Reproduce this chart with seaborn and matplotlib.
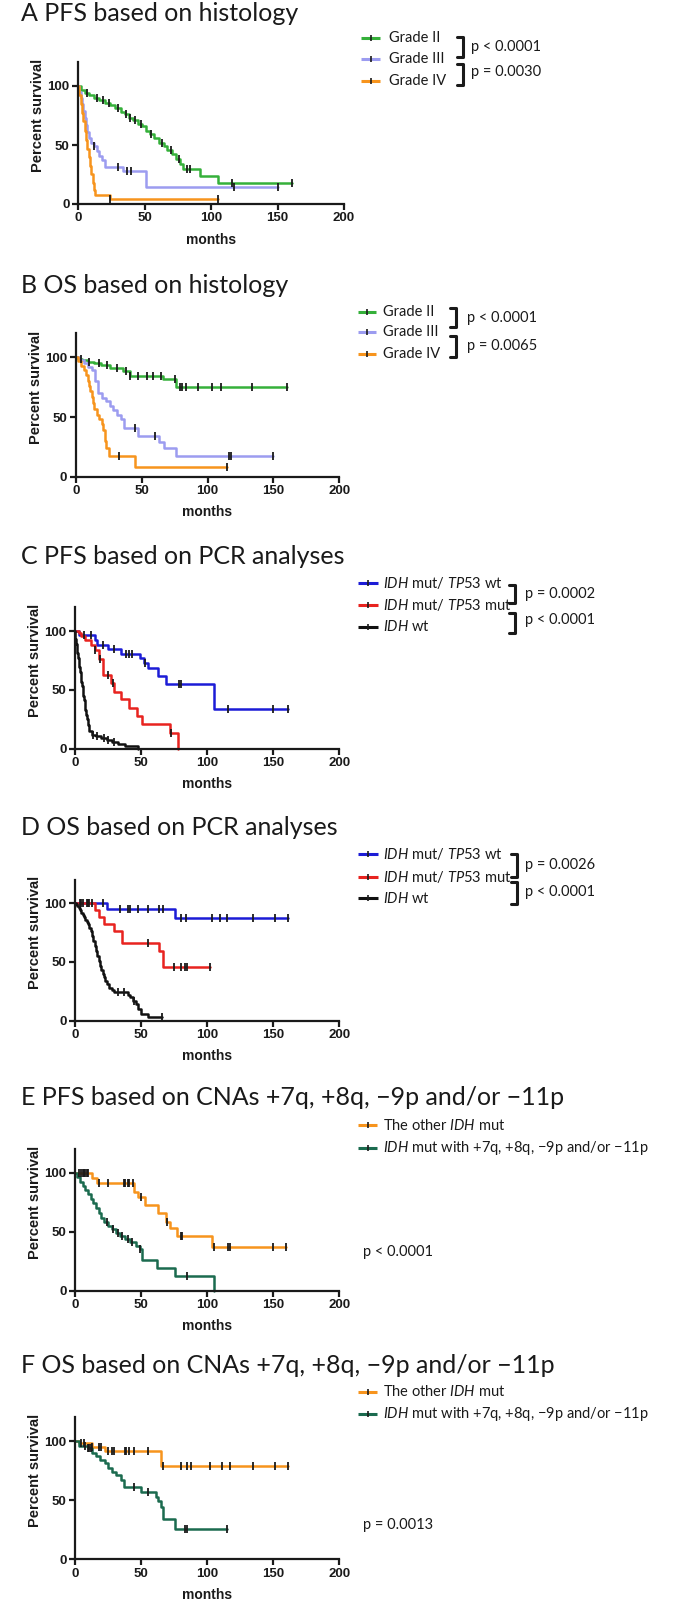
import numpy as np
import matplotlib
matplotlib.use("Agg")
import matplotlib.pyplot as plt
import seaborn as sns

sns.set_theme(style="ticks")
plt.rcParams["font.family"] = ["Lato", "DejaVu Sans"]
plt.rcParams["mathtext.fontset"] = "custom"
plt.rcParams["mathtext.it"] = "Lato:italic"
plt.rcParams["mathtext.rm"] = "Lato"

# ---- data (months, percent survival) ----
# A  PFS by histology
a_g2_t = [2, 5, 8, 12, 16, 20, 24, 28, 32, 35, 38, 41, 45, 48, 51, 54, 57, 61, 65, 67, 71, 74, 77, 79, 92, 105]
a_g2_s = [97, 94, 92, 90, 88, 86, 84, 81, 78, 76, 73, 71, 68, 66, 62, 59, 56, 52, 49, 46, 42, 38, 34, 30, 23.5, 17.5]
a_g2_c = [7, 14, 19, 23, 30, 36, 39, 43, 47, 55, 63, 70, 76, 82, 84, 116, 161]
a_g3_t = [1, 2, 3, 4, 5, 6, 7, 8, 10, 12, 14, 16, 18, 20, 34, 51]
a_g3_s = [95, 90, 85, 79, 73, 67, 61, 56, 52, 49, 45, 41, 37, 31, 28, 14]
a_g3_c = [12, 30, 37, 40, 117, 150]
a_g4_t = [1, 2, 3, 4, 5, 6, 7, 8, 9, 10, 11, 12, 13, 24]
a_g4_s = [92, 85, 77, 70, 62, 54, 47, 40, 32, 25, 18, 12, 7.5, 4.5]
a_g4_c = [24, 105]

# B  OS by histology
b_g2_t = [2, 5, 9, 14, 19, 26, 36, 41, 66, 76]
b_g2_s = [98.8, 97.5, 96.2, 94.9, 93.6, 91, 88.5, 84.5, 81.5, 75.5]
b_g2_c = [4, 10, 18, 24, 31, 38, 41, 47, 54, 59, 65, 75, 79, 81, 84, 93, 103, 110, 134, 160]
b_g3_t = [3, 6, 9, 12, 15, 17, 20, 23, 26, 28, 31, 34, 37, 47, 63, 67, 76]
b_g3_s = [98, 95, 92, 89, 80, 70, 66, 63, 59, 56, 52, 48, 41, 34, 29, 24, 17.5]
b_g3_c = [45, 60, 116, 118, 150]
b_g4_t = [2, 4, 6, 8, 9, 10, 11, 12, 13, 14, 16, 18, 20, 21, 22, 23, 25, 45]
b_g4_s = [97, 93, 89, 85, 80, 76, 72, 67, 62, 57, 52, 48, 44, 39, 30, 24, 17, 8.5]
b_g4_c = [33, 115]

# C  PFS by PCR
c_tw_t = [3, 15, 17, 25, 35, 49, 52, 55, 63, 69, 105]
c_tw_s = [96.5, 92.5, 88.5, 84.5, 80.5, 77, 73, 68.5, 62, 55, 34]
c_tw_c = [7, 12, 21, 30, 39, 41, 43, 53, 79, 80, 116, 150, 161]
c_tm_t = [3, 5, 8, 12, 15, 18, 21, 27, 30, 35, 41, 47, 51, 72, 78]
c_tm_s = [98, 96, 92, 88, 84, 76, 63, 56, 48, 42, 35, 28, 21, 13, 0]
c_tm_c = [15, 19, 25, 29, 73]
c_wt_t = [0.5, 1, 1.5, 2, 2.5, 3, 3.5, 4, 4.5, 5, 5.5, 6, 6.5, 7, 7.5, 8, 8.5, 9, 10, 11, 13, 16, 20, 24, 28, 33, 38, 48]
c_wt_s = [93, 89, 85, 81, 77, 73, 69, 65, 61, 57, 53, 49, 45, 41, 37, 33, 29, 25, 20, 15, 12, 10.5, 9, 7.5, 6, 4, 2, 0]
c_wt_c = [14, 17, 22, 25, 30]

# D  OS by PCR
d_tw_t = [24, 76]
d_tw_s = [95, 87.5]
d_tw_c = [4, 6, 9, 11, 21, 34, 40, 42, 48, 55, 64, 67, 80, 84, 104, 110, 115, 135, 151, 161]
d_tm_t = [15, 18, 22, 30, 36, 64, 67]
d_tm_s = [94.5, 88, 82, 76, 66, 59, 46]
d_tm_c = [5, 10, 13, 55, 75, 80, 83, 85, 102]
d_wt_t = [1, 2, 3, 4, 5, 6, 7, 8, 9, 10, 11, 12, 13, 14, 15, 16, 17, 18, 19, 20, 21, 22, 23, 24, 26, 28, 30, 40, 42, 44, 46, 48, 50, 55]
d_wt_s = [99, 97.5, 96, 94, 92, 90, 88, 86, 84, 82, 79, 76, 72, 68, 64, 59, 55, 51, 47, 43, 40, 37, 34, 31, 28, 26, 24.5, 22, 20, 17, 14, 10, 6, 3]
d_wt_c = [33, 37, 45, 66]

# E  PFS by CNAs
e_oth_t = [13, 17, 45, 48, 53, 63, 69, 72, 77, 104]
e_oth_s = [95.5, 91, 84, 79.5, 72.5, 65.5, 58.5, 53, 46.5, 37]
e_oth_c = [3, 5, 6, 7, 8, 9, 10, 18, 25, 37, 38, 40, 41, 44, 50, 70, 80, 81, 105, 116, 117, 150, 160]
e_cna_t = [2, 4, 6, 8, 10, 12, 14, 16, 18, 20, 22, 25, 28, 31, 34, 38, 42, 46, 49, 51, 62, 76, 105]
e_cna_s = [96, 92, 88.5, 85, 82, 78, 74, 70, 66, 62, 58, 55, 52, 49, 46, 44, 41, 38, 35, 26, 19, 12.5, 0]
e_cna_c = [24, 29, 33, 36, 40, 43, 49, 85]

# F  OS by CNAs
f_oth_t = [3, 13, 23, 65]
f_oth_s = [98, 95, 91.5, 79]
f_oth_c = [5, 7, 13, 18, 20, 25, 28, 30, 38, 39, 41, 45, 55, 67, 80, 85, 88, 102, 111, 117, 135, 151, 161]
f_cna_t = [3, 10, 13, 16, 19, 23, 25, 28, 31, 35, 37, 50, 61, 63, 65, 67, 76]
f_cna_s = [96, 94, 90, 87, 84, 81, 77, 74, 71.5, 67, 61.5, 57, 53, 49, 44.5, 34, 26]
f_cna_c = [8, 10, 11, 12, 45, 55, 83, 85, 115]

titles = ["A PFS based on histology", "B OS based on histology",
          "C PFS based on PCR analyses", "D OS based on PCR analyses",
          "E PFS based on CNAs +7q, +8q, \u22129p and/or \u221211p",
          "F OS based on CNAs +7q, +8q, \u22129p and/or \u221211p"]
grade_labels = ["Grade II", "Grade III", "Grade IV"]
pcr_labels = [r"$\mathit{IDH}$ mut/ $\mathit{TP53}$ wt",
              r"$\mathit{IDH}$ mut/ $\mathit{TP53}$ mut",
              r"$\mathit{IDH}$ wt"]
cna_labels = [r"The other $\mathit{IDH}$ mut",
              r"$\mathit{IDH}$ mut with +7q, +8q, $-$9p and/or $-$11p"]
pvals = [["p < 0.0001", "p = 0.0030"], ["p < 0.0001", "p = 0.0065"],
         ["p = 0.0002", "p < 0.0001"], ["p = 0.0026", "p < 0.0001"],
         ["p < 0.0001"], ["p = 0.0013"]]

GREEN, LAV, ORANGE = "#35b03a", "#9c9cf0", "#f7941d"
BLUE, RED, BLACK, DKGREEN = "#1c1cd6", "#e8231f", "#111111", "#1b6b4f"

curves = [
    [(a_g2_t, a_g2_s, a_g2_c, GREEN), (a_g3_t, a_g3_s, a_g3_c, LAV), (a_g4_t, a_g4_s, a_g4_c, ORANGE)],
    [(b_g2_t, b_g2_s, b_g2_c, GREEN), (b_g3_t, b_g3_s, b_g3_c, LAV), (b_g4_t, b_g4_s, b_g4_c, ORANGE)],
    [(c_tw_t, c_tw_s, c_tw_c, BLUE), (c_tm_t, c_tm_s, c_tm_c, RED), (c_wt_t, c_wt_s, c_wt_c, BLACK)],
    [(d_tw_t, d_tw_s, d_tw_c, BLUE), (d_tm_t, d_tm_s, d_tm_c, RED), (d_wt_t, d_wt_s, d_wt_c, BLACK)],
    [(e_oth_t, e_oth_s, e_oth_c, ORANGE), (e_cna_t, e_cna_s, e_cna_c, DKGREEN)],
    [(f_oth_t, f_oth_s, f_oth_c, ORANGE), (f_cna_t, f_cna_s, f_cna_c, DKGREEN)],
]
labels = [grade_labels, grade_labels, pcr_labels, pcr_labels, cna_labels, cna_labels]

# layout in pixels: axes left, right, bottom(y=0), px per percent
W, H = 678, 1600
axes_px = [(78, 344, 204, 1.18), (75.7, 339.4, 476.7, 1.194), (74.8, 339.4, 748.7, 1.177),
           (74.8, 339.4, 1020.7, 1.174), (74.8, 339.4, 1290.7, 1.18), (74.8, 339.4, 1559.3, 1.183)]
title_base = [21, 293, 563.5, 835, 1105, 1373]
legend_y = [[38.3, 59.3, 80.7], [311.7, 331.7, 354], [582.7, 605, 626.7],
            [854, 876.7, 898.3], [1125, 1148.3], [1391.7, 1414]]
legend_x = [(361, 380, 389), (358, 376, 382.6), (358, 378, 382.6),
            (358, 378, 382.6), (358, 377, 382.6), (358, 377, 382.6)]
brackets = [(462.6, [(37, 57), (64, 85)]), (456, [(308, 327), (336, 357)]),
            (514.5, [(585, 603), (613, 633)]), (516.6, [(854, 877), (882, 904)]),
            None, None]
p_pos = [(471, [47, 72]), (467, [318, 346]), (525, [594, 620]),
         (525, [865, 892]), (363, [1252]), (363, [1525])]

fig = plt.figure(figsize=(W / 100, H / 100), dpi=100)
fig.patch.set_facecolor("white")
ov = fig.add_axes([0, 0, 1, 1])
ov.set_xlim(0, W)
ov.set_ylim(H, 0)
ov.axis("off")

tickfont = dict(family="Liberation Sans", weight="bold")


def km(ax, t, s, cens, color):
    end = max(t[-1], max(cens))
    xs = [0] + list(t) + [end]
    ys = [100] + list(s) + [s[-1]]
    sns.lineplot(x=xs, y=ys, drawstyle="steps-post", color=color, lw=1.8,
                 estimator=None, sort=False, ax=ax, clip_on=False)
    idx = np.searchsorted(t, cens, side="right")
    sv = np.r_[100, s][idx]
    sns.scatterplot(x=cens, y=sv, marker="|", color="k", s=28, linewidth=1.3,
                    ax=ax, clip_on=False, zorder=5)


for i in range(6):
    L, R, B0, k = axes_px[i]
    top = B0 - 120 * k
    ax = fig.add_axes([L / W, 1 - B0 / H, (R - L) / W, (B0 - top) / H])
    ax.set_facecolor("none")
    for t, s, c, col in curves[i]:
        km(ax, t, s, c, col)
    ax.set_xlim(0, 200)
    ax.set_ylim(0, 120)
    ax.set_xticks([0, 50, 100, 150, 200])
    ax.set_yticks([0, 50, 100])
    sns.despine(ax=ax)
    for sp in ["left", "bottom"]:
        ax.spines[sp].set_linewidth(1.6)
        ax.spines[sp].set_color("k")
    ax.tick_params(length=4, width=1.6, pad=2, labelsize=9.5, colors="k")
    for lab in ax.get_xticklabels() + ax.get_yticklabels():
        lab.set_fontfamily("Liberation Sans")
        lab.set_fontweight("bold")
    ax.set_xlabel("months", fontsize=10, labelpad=6, color="k", **tickfont)
    ax.set_ylabel("Percent survival", fontsize=10.5, color="k", **tickfont)
    ax.yaxis.set_label_coords(-0.125, 0.625)

    # title
    ov.text(20.75, title_base[i], titles[i], fontsize=18, va="baseline", ha="left", color="k")
    # legend
    x0, x1, xt = legend_x[i]
    for (t, s, c, col), lab, y in zip(curves[i], labels[i], legend_y[i]):
        ov.plot([x0, x1], [y, y], color=col, lw=2.2, solid_capstyle="butt")
        ov.plot([(x0 + x1) / 2], [y], marker="|", color="k", ms=5, mew=1.2)
        ov.text(xt, y, lab, fontsize=10.5, va="center", ha="left", color="k")
    if brackets[i] is not None:
        bx, spans = brackets[i]
        for y0, y1 in spans:
            ov.plot([bx - 6, bx, bx, bx - 6], [y0, y0, y1, y1], color="k", lw=2.2)
    px, pys = p_pos[i]
    for ptxt, py in zip(pvals[i], pys):
        ov.text(px, py, ptxt, fontsize=10.5, va="center", ha="left", color="k")

fig.savefig("out.png", dpi=100, facecolor="white")
